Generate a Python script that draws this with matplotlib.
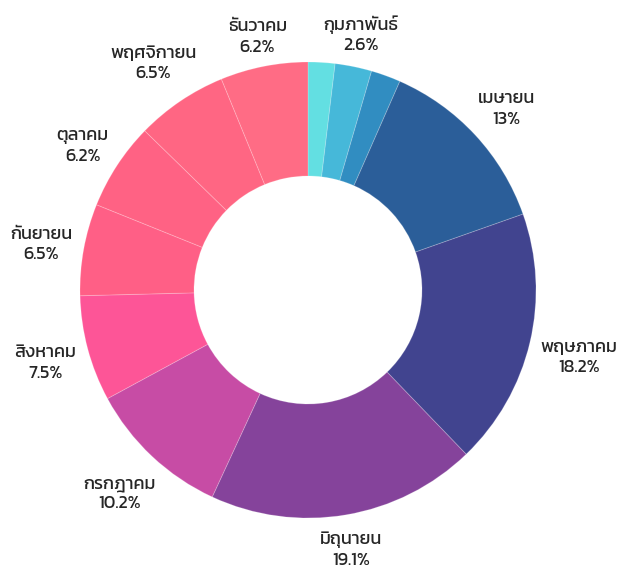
import matplotlib
matplotlib.use("Agg")
import math
import matplotlib.pyplot as plt

# ข้อมูล
months = ["มกราคม", "กุมภาพันธ์", "มีนาคม", "เมษายน", "พฤษภาคม", "มิถุนายน",
          "กรกฎาคม", "สิงหาคม", "กันยายน", "ตุลาคม", "พฤศจิกายน", "ธันวาคม"]
values = [1.9, 2.6, 2.1, 13, 18.2, 19.1, 10.2, 7.5, 6.5, 6.2, 6.5, 6.2]
colors = ["#63dfe2", "#46b8d9", "#318dc1", "#2b5e99", "#41448f", "#85439b",
          "#c74ca5", "#fd5597", "#ff5f86", "#ff6284", "#ff6683", "#ff6c85"]

W, H = 624, 571
CX, CY = 308, H - 290
R = 228
GAP = 9

plt.rcParams['font.family'] = ['Kanit', 'Prompt', 'Noto Sans Thai', 'DejaVu Sans']

fig = plt.figure(figsize=(W / 100, H / 100), dpi=100)
ax = fig.add_axes([0, 0, 1, 1])
wedges, _ = ax.pie(values, colors=colors, startangle=90, counterclock=False,
                   center=(CX, CY), radius=R,
                   wedgeprops=dict(width=R * 0.5, edgecolor=(1, 1, 1, 0.2), linewidth=0.7))
ax.set_xlim(0, W)
ax.set_ylim(0, H)
ax.set_aspect('equal')
ax.axis('off')

renderer = fig.canvas.get_renderer()
total = sum(values)
acc = 0
for name, v in zip(months, values):
    mid = (acc + v / 2) / total * 2 * math.pi
    acc += v
    # ชิ้นเล็กไม่แสดงป้าย
    if v < 2.5:
        continue
    pct = f"{v:g}%"
    t = ax.text(0, 0, f"{name}\n{pct}", ha='center', va='center', fontsize=13,
                color='#262626', linespacing=1.25)
    bb = t.get_window_extent(renderer)
    e = abs(math.sin(mid)) * bb.width / 2 + abs(math.cos(mid)) * bb.height / 2
    d = R + GAP + e
    t.set_position((CX + d * math.sin(mid), CY + d * math.cos(mid) - 3))

fig.savefig("out.png", dpi=100)
